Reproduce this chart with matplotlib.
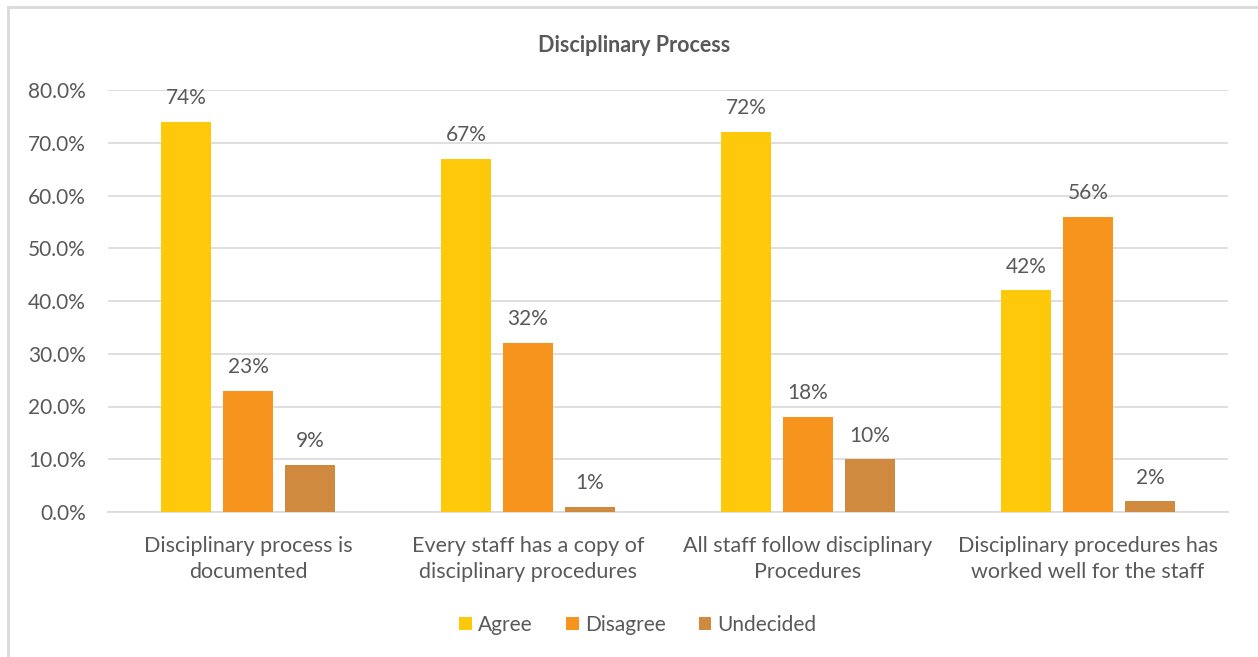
import numpy as np
import matplotlib.pyplot as plt

plt.rcParams['font.family'] = ['Lato', 'DejaVu Sans']

categories = ['Disciplinary process is\ndocumented',
              'Every staff has a copy of\ndisciplinary procedures',
              'All staff follow disciplinary\nProcedures',
              'Disciplinary procedures has\nworked well for the staff']
series = ['Agree', 'Disagree', 'Undecided']
agree = [74, 67, 72, 42]
disagree = [23, 32, 18, 56]
undecided = [9, 1, 10, 2]
colors = ['#FFC90B', '#F7941E', '#CF8A40']
text_color = '#595959'

fig = plt.figure(figsize=(12.58, 6.57), dpi=100)
ax = fig.add_axes([108 / 1258, 1 - 512 / 657, 1120 / 1258, 422 / 657])

x = np.arange(len(categories))
width = 0.179
offset = 0.221
for i, (name, vals) in enumerate(zip(series, [agree, disagree, undecided])):
    pos = x + (i - 1) * offset
    ax.bar(pos, vals, width, color=colors[i], label=name, zorder=3)
    for p, v in zip(pos, vals):
        ax.text(p, v + 2.6, f'{v}%', ha='center', va='bottom',
                fontsize=15, color=text_color)

ax.set_xlim(-0.5, 3.5)
ax.set_ylim(0, 80)
ax.set_yticks(np.arange(0, 81, 10))
ax.set_yticklabels([f'{t:.1f}%' for t in range(0, 81, 10)])
ax.yaxis.grid(True, color='#D9D9D9', linewidth=1.2, zorder=0)
ax.set_xticks(x)
ax.set_xticklabels(categories, linespacing=1.38, fontsize=15.5)
ax.tick_params(axis='y', length=0, labelsize=15, labelcolor=text_color, pad=16)
ax.tick_params(axis='x', length=0, labelcolor=text_color, pad=17)
for s in ['top', 'right', 'left']:
    ax.spines[s].set_visible(False)
ax.spines['bottom'].set_color('#D9D9D9')
ax.spines['bottom'].set_linewidth(1.2)

fig.text(634 / 1258, 1 - 45 / 657, 'Disciplinary Process', ha='center',
         va='center', fontsize=15.5, fontweight='bold', color=text_color)

fig.legend(loc='center', bbox_to_anchor=(638 / 1258, 1 - 625 / 657), ncol=3,
           frameon=False, fontsize=15, handlelength=0.6, handleheight=0.6,
           handletextpad=0.3, columnspacing=1.6, labelcolor=text_color)

# chart frame
fig.add_artist(plt.Line2D([8 / 1258, 8 / 1258], [0, 1 - 7 / 657],
                          color='#D9D9D9', linewidth=2, transform=fig.transFigure))
fig.add_artist(plt.Line2D([8 / 1258, 1], [1 - 7 / 657, 1 - 7 / 657],
                          color='#D9D9D9', linewidth=2, transform=fig.transFigure))

fig.savefig('out.png')
